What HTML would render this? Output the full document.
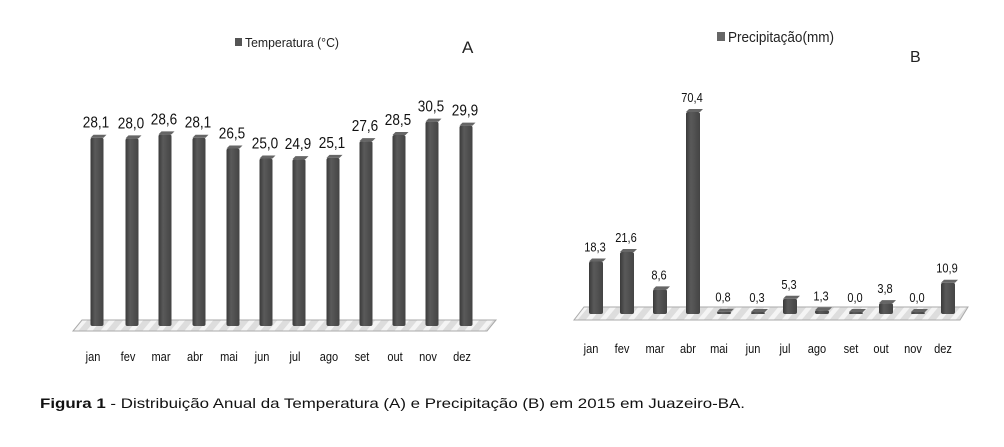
<!DOCTYPE html>
<html><head><meta charset="utf-8"><style>
body{margin:0;background:#fff;width:1004px;height:442px;overflow:hidden}
svg text{font-family:"Liberation Sans Narrow","Liberation Sans",sans-serif}
</style></head><body>
<svg id="s" width="1004" height="442" xmlns="http://www.w3.org/2000/svg">
<defs>
<linearGradient id="g" x1="0" x2="1"><stop offset="0" stop-color="#3a3a3a"/><stop offset="0.35" stop-color="#5a5a5a"/><stop offset="1" stop-color="#444"/></linearGradient>
<pattern id="fl" width="14" height="10" patternUnits="userSpaceOnUse" patternTransform="skewX(-40)"><rect width="14" height="10" fill="#ddd"/><rect width="6" height="10" fill="#f4f4f4"/></pattern>
</defs>
<rect x="235" y="38" width="7" height="8" fill="#555"/>
<text x="245" y="47" font-size="13" fill="#222" textLength="94" lengthAdjust="spacingAndGlyphs">Temperatura (°C)</text>
<text x="462" y="53" font-size="17" fill="#222">A</text>
<rect x="717" y="32" width="8" height="9" fill="#666"/>
<text x="728" y="42" font-size="15" fill="#222" textLength="106" lengthAdjust="spacingAndGlyphs">Precipitação(mm)</text>
<text x="910" y="62" font-size="16" fill="#222">B</text>
<polygon points="82,320 496,320 487,331 73,331" fill="url(#fl)" stroke="#aaa"/>
<polygon points="584,307 968,307 960,320 574,320" fill="url(#fl)" stroke="#aaa"/>
<g id="a"></g>
<text x="40" y="408" font-size="14" fill="#111" textLength="705" lengthAdjust="spacingAndGlyphs"><tspan font-weight="bold">Figura 1</tspan> - Distribuição Anual da Temperatura (A) e Precipitação (B) em 2015 em Juazeiro-BA.</text>
</svg>
<script>
var m=["jan","fev","mar","abr","mai","jun","jul","ago","set","out","nov","dez"];
var A=[28.1,28.0,28.6,28.1,26.5,25.0,24.9,25.1,27.6,28.5,30.5,29.9];
var B=[18.3,21.6,8.6,70.4,0.8,0.3,5.3,1.3,0.0,3.8,0.0,10.9];
var la=[93,128,161,195,229,262,295,329,362,395,428,462];
var lb=[591,622,655,688,719,753,785,817,851,881,913,943];
var h="";
function bar(cx,bot,ht,w){var x=cx-w/2,t=bot-ht;
return '<rect x="'+x+'" y="'+t+'" width="'+w+'" height="'+ht+'" rx="2" fill="url(#g)"/><polygon points="'+(x)+','+t+' '+(x+3)+','+(t-3)+' '+(x+w+3)+','+(t-3)+' '+(x+w)+','+t+'" fill="#666"/>';}
for(var i=0;i<12;i++){
var cx=la[i]+4,ht=A[i]*6.7;
h+=bar(cx,326,ht,13);
h+='<text x="'+(cx-1)+'" y="'+(326-ht-10)+'" font-size="16" text-anchor="middle" fill="#111" transform="translate('+(cx-1)+',0) scale(0.85,1) translate('+(-(cx-1))+',0)">'+A[i].toFixed(1).replace(".",",")+'</text>';
h+='<text x="'+la[i]+'" y="361" font-size="13" text-anchor="middle" fill="#111" transform="translate('+la[i]+',0) scale(0.85,1) translate('+(-la[i])+',0)">'+m[i]+'</text>';
var cb=lb[i]+5,hb=Math.max(B[i]*2.87,2);
h+=bar(cb,314,hb,14);
h+='<text x="'+(cb-1)+'" y="'+(314-hb-10)+'" font-size="13" text-anchor="middle" fill="#111" transform="translate('+(cb-1)+',0) scale(0.85,1) translate('+(-(cb-1))+',0)">'+B[i].toFixed(1).replace(".",",")+'</text>';
h+='<text x="'+lb[i]+'" y="353" font-size="13" text-anchor="middle" fill="#111" transform="translate('+lb[i]+',0) scale(0.85,1) translate('+(-lb[i])+',0)">'+m[i]+'</text>';}
document.getElementById("a").innerHTML=h;
</script>
</body></html>
